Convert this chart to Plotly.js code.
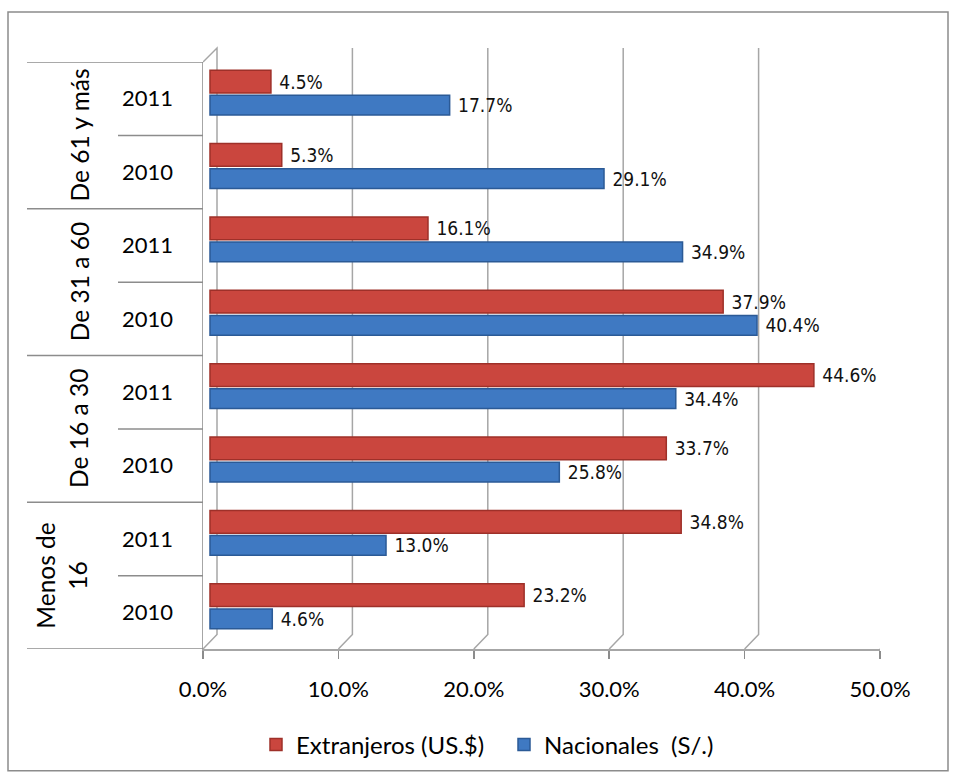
<!DOCTYPE html>
<html>
<head>
<meta charset="utf-8">
<script src="https://cdn.plot.ly/plotly-3.0.1.min.js"></script>
<style>html,body{margin:0;padding:0;background:#fff;}#chart{width:955px;height:778px;}</style>
</head>
<body>
<div id="chart"></div>
<script>
// ---- data (bottom to top) ----
const groups = ["Menos de 16", "De 16 a 30", "De 31 a 60", "De 61 y más"];
const groupLabels = ["Menos de<br>16", "De 16 a 30", "De 31 a 60", "De 61 y más"];
const years = ["2010", "2011"];
const extranjeros = [23.2, 34.8, 33.7, 44.6, 37.9, 16.1, 5.3, 4.5];
const nacionales  = [4.6, 13.0, 25.8, 34.4, 40.4, 34.9, 29.1, 17.7];
const xTicks = [0, 10, 20, 30, 40, 50];
const seriesNames = ["Extranjeros (US.$)", "Nacionales \u00a0(S/.)"];

// ---- layout constants (pixels) ----
const W = 955, H = 778;
const L = 203, R = 75, T = 62, B = 128;
const plotW = W - L - R, plotH = H - T - B;
const depthX = 14, depthY = 14.5;
const xMax = 50;
const dx = depthX / plotW * xMax;      // depth in x data units
const pxX = p => (p - L) / plotW;      // pixel -> paper x
const pxY = p => (H - B - p) / plotH;  // pixel -> paper y

const cats = groups.flatMap(g => years.map(y => g + " " + y));
const tickText = groups.flatMap(() => years);

const labelFont = {family: "Liberation Sans Narrow, DejaVu Sans Condensed, Arial Narrow, sans-serif", size: 19, color: "#111"};
const mainFont = {family: "Lato, Calibri, Carlito, sans-serif", size: 22, color: "#000"};
const groupFont = {family: "Lato, Calibri, Carlito, sans-serif", size: 24.5, color: "#000"};
const legendFont = {family: "Lato, Calibri, Carlito, sans-serif", size: 24, color: "#000"};
const fmt = v => "\u00a0" + v.toFixed(1) + "%";

const traces = [
  {
    type: "bar", orientation: "h", name: seriesNames[0], xaxis: "x2",
    y: cats, x: extranjeros,
    offset: 0.078, width: 0.31,
    marker: {color: "#CA463E", line: {color: "#9E3029", width: 1.5}},
    text: extranjeros.map(fmt),
    textposition: "outside", cliponaxis: false, constraintext: "none",
    textfont: labelFont, hoverinfo: "x+name"
  },
  {
    type: "bar", orientation: "h", name: seriesNames[1], xaxis: "x2",
    y: cats, x: nacionales,
    offset: -0.224, width: 0.27,
    marker: {color: "#3F79C2", line: {color: "#2B5A96", width: 1.5}},
    text: nacionales.map(fmt),
    textposition: "outside", cliponaxis: false, constraintext: "none",
    textfont: labelFont, hoverinfo: "x+name"
  }
];

const shapes = [];
const gridColor = "#a6a6a6";
const yTop = pxY(48), yBackBottom = pxY(650 - depthY);
// 3D back-wall gridlines
xTicks.forEach(t => {
  let path = `M ${t},0 L ${t + dx},${yBackBottom} L ${t + dx},${yTop}`;
  if (t === 0) path += ` L ${t},1`;
  shapes.push({type: "path", xref: "x", yref: "paper", path: path,
    line: {color: gridColor, width: 1.5}, layer: "below"});
});
// category separators
for (let i = 0; i <= cats.length; i++) {
  const isGroup = (i % years.length === 0);
  shapes.push({type: "line", xref: "paper", yref: "y",
    x0: pxX(isGroup ? 27 : 118), x1: 0, y0: i - 0.5, y1: i - 0.5,
    line: {color: "#8c8c8c", width: 1.5}});
}
// outer border
shapes.push({type: "rect", xref: "paper", yref: "paper",
  x0: pxX(8), x1: pxX(948), y0: pxY(772), y1: pxY(12),
  line: {color: "#8c8c8c", width: 1.5}, fillcolor: "rgba(0,0,0,0)"});

const annotations = groups.map((g, i) => ({
  xref: "paper", yref: "y",
  x: pxX(groupLabels[i].includes("<br>") ? 62 : 79),
  y: i * years.length + (years.length - 1) / 2,
  text: groupLabels[i], textangle: -90, showarrow: false,
  font: groupFont, xanchor: "center", yanchor: "middle"
}));

const layout = {
  width: W, height: H,
  margin: {l: L, r: R, t: T, b: B, pad: 0},
  paper_bgcolor: "#fff", plot_bgcolor: "rgba(0,0,0,0)",
  barmode: "overlay",
  showlegend: true,
  legend: {orientation: "h", x: pxX(256), xanchor: "left", y: pxY(745), yanchor: "middle",
    font: legendFont, itemwidth: 30, entrywidth: 203, entrywidthmode: "pixels",
    bgcolor: "rgba(0,0,0,0)"},
  xaxis: {
    range: [0, xMax], tickvals: xTicks, ticktext: xTicks.map(v => v.toFixed(1) + "%"),
    showgrid: false, zeroline: false,
    showline: true, linecolor: gridColor, linewidth: 1.5,
    ticks: "outside", ticklen: 8, tickcolor: "#8c8c8c", tickwidth: 1.5,
    tickfont: mainFont, ticklabelstandoff: 12, fixedrange: true
  },
  // bars sit half the 3D depth behind the front edge
  xaxis2: {
    overlaying: "x", anchor: "y", side: "bottom",
    range: [-dx / 2, xMax - dx / 2], visible: false, fixedrange: true
  },
  yaxis: {
    type: "category", categoryorder: "array", categoryarray: cats,
    range: [-0.5, cats.length - 0.5],
    tickvals: cats, ticktext: tickText,
    showgrid: false, zeroline: false,
    showline: true, linecolor: gridColor, linewidth: 1.5,
    ticks: "", tickfont: mainFont, ticklabelstandoff: 24, fixedrange: true
  },
  shapes: shapes,
  annotations: annotations
};

Plotly.newPlot("chart", traces, layout, {displayModeBar: false, staticPlot: true});
</script>
</body>
</html>
